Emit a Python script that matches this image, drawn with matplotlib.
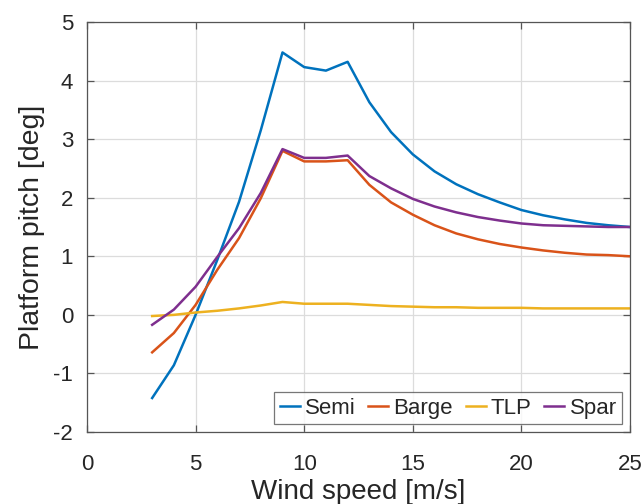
import matplotlib
matplotlib.use("Agg")
import matplotlib.pyplot as plt

wind = list(range(3, 26))
semi = [-1.42, -0.86, 0.00, 0.94, 1.93, 3.15, 4.48, 4.23, 4.17, 4.32, 3.63, 3.12, 2.74, 2.45, 2.23,
        2.06, 1.92, 1.79, 1.70, 1.63, 1.57, 1.53, 1.50]
barge = [-0.64, -0.31, 0.17, 0.77, 1.31, 1.99, 2.80, 2.62, 2.62, 2.64, 2.22, 1.92, 1.71, 1.53, 1.39,
         1.29, 1.21, 1.15, 1.10, 1.06, 1.03, 1.02, 1.00]
tlp = [-0.02, 0.00, 0.04, 0.07, 0.11, 0.16, 0.22, 0.19, 0.19, 0.19, 0.17, 0.15, 0.14, 0.13, 0.13,
       0.12, 0.12, 0.12, 0.11, 0.11, 0.11, 0.11, 0.11]
spar = [-0.17, 0.09, 0.48, 0.99, 1.48, 2.08, 2.83, 2.68, 2.68, 2.72, 2.37, 2.16, 1.98, 1.85, 1.75,
        1.67, 1.61, 1.56, 1.53, 1.52, 1.51, 1.50, 1.50]

names = ["Semi", "Barge", "TLP", "Spar"]
colors = ["#0072BD", "#D95319", "#EDB120", "#7E2F8E"]
xticks = [0, 5, 10, 15, 20, 25]
yticks = [-2, -1, 0, 1, 2, 3, 4, 5]

plt.rcParams['font.family'] = ['Liberation Sans', 'DejaVu Sans']
plt.rcParams['axes.unicode_minus'] = False

fig = plt.figure(figsize=(6.44, 5.04), dpi=100)
ax = fig.add_axes([87/644, 1 - 432/504, (630-87)/644, (432-22)/504])

for y, name, c in zip([semi, barge, tlp, spar], names, colors):
    ax.plot(wind, y, color=c, lw=1.8, label=name)

edge = "#555555"
ax.set_xlim(0, 25)
ax.set_ylim(-2, 5)
ax.set_xticks(xticks)
ax.set_yticks(yticks)
ax.grid(True, color="#dcdcdc", lw=0.9)
ax.set_axisbelow(True)
for s in ax.spines.values():
    s.set_color(edge)
    s.set_linewidth(0.9)
ax.tick_params(direction="in", top=True, right=True, length=5, width=0.9,
               color=edge, labelsize=16, labelcolor="#262626")
ax.tick_params(axis="x", pad=16)
ax.tick_params(axis="y", pad=10)
ax.set_xlabel("Wind speed [m/s]", fontsize=20, color="#262626", labelpad=3)
ax.set_ylabel("Platform pitch [deg]", fontsize=20.5, color="#262626", labelpad=6)

leg = ax.legend(loc="lower right", ncol=4, fontsize=16, frameon=True, fancybox=False,
                edgecolor=edge, handlelength=0.9, handletextpad=0.23, columnspacing=0.57,
                borderpad=0.25, borderaxespad=0.35)
leg.get_frame().set_linewidth(0.9)
for t in leg.get_texts():
    t.set_color("#262626")

fig.savefig("out.png", dpi=100)
